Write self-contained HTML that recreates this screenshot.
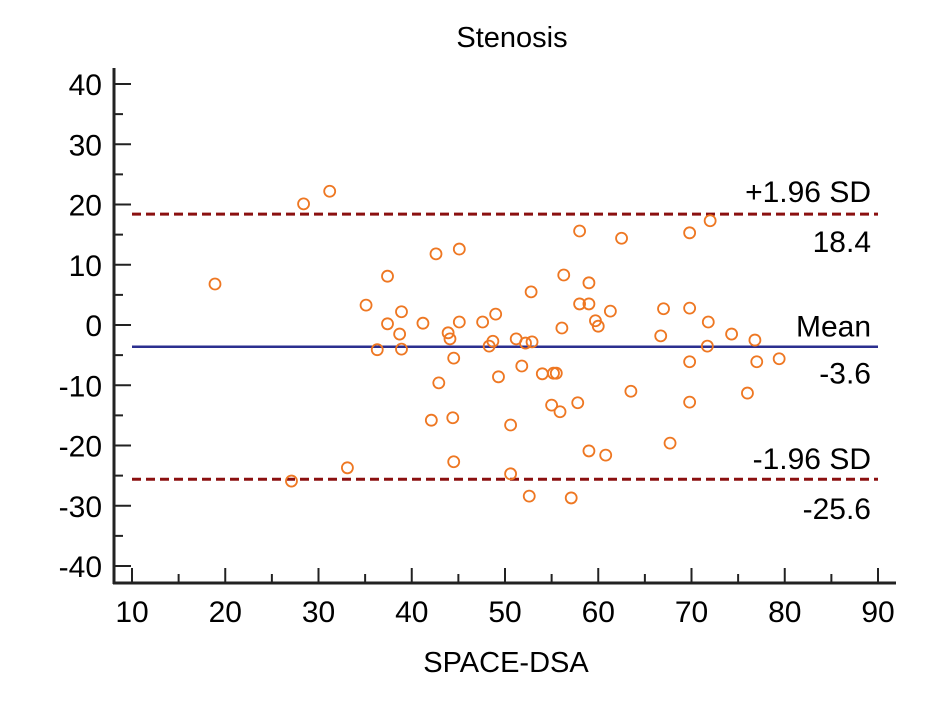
<!DOCTYPE html>
<html><head><meta charset="utf-8"><style>
html,body{margin:0;padding:0;background:#fff;width:939px;height:704px;overflow:hidden}
svg text{font-family:"Liberation Sans",Arial,sans-serif;fill:#000}
</style></head><body>
<svg id="chart" width="939" height="704" viewBox="0 0 939 704" xmlns="http://www.w3.org/2000/svg">
<g id="g"></g>
</svg>
<script>
const xTicks=[10,20,30,40,50,60,70,80,90];
const yTicks=[40,30,20,10,0,-10,-20,-30,-40];
const xs=[18.9,28.4,31.2,27.1,33.1,35.1,37.4,37.4,38.9,38.7,38.9,36.3,41.2,42.6,45.1,45.1,43.9,44.1,44.5,42.9,42.1,44.4,44.5,47.6,49.0,48.7,48.3,51.2,52.2,52.9,52.8,51.8,49.3,50.6,50.6,52.6,54.0,55.2,55.5,55.0,55.9,57.8,56.1,56.3,58.0,59.0,58.0,59.0,59.7,60.0,61.3,62.5,63.5,59.0,60.8,57.1,67.0,66.7,67.7,69.8,69.8,69.8,69.8,72.0,71.8,71.7,74.3,76.8,77.0,76.0,79.4];
const ys=[6.8,20.1,22.2,-25.9,-23.7,3.3,8.1,0.2,2.2,-1.5,-4.0,-4.1,0.3,11.8,12.6,0.5,-1.3,-2.3,-5.5,-9.6,-15.8,-15.4,-22.7,0.5,1.8,-2.7,-3.5,-2.3,-3.0,-2.8,5.5,-6.8,-8.6,-16.6,-24.7,-28.4,-8.1,-8.0,-8.0,-13.3,-14.4,-12.9,-0.5,8.3,15.6,7.0,3.5,3.5,0.7,-0.2,2.3,14.4,-11.0,-20.9,-21.6,-28.7,2.7,-1.8,-19.6,15.3,2.8,-6.1,-12.8,17.3,0.5,-3.5,-1.5,-2.5,-6.1,-11.3,-5.6];
const meanVal=-3.6, upperVal=18.4, lowerVal=-25.6;

const NS="http://www.w3.org/2000/svg";
const g=document.getElementById('g');
const X=v=>132+(v-10)*(878-132)/80;
const Y=v=>325-v*(566-84)/80;
function mk(t,a,parent){const e=document.createElementNS(NS,t);for(const k in a)e.setAttribute(k,a[k]);(parent||g).appendChild(e);return e;}
const FS=30;
let e;
e=mk('text',{x:512,y:47,'font-size':29,'text-anchor':'middle'});e.textContent='Stenosis';


e=mk('text',{x:506,y:672,'font-size':29,'text-anchor':'middle'});e.textContent='SPACE-DSA';



e=mk('line',{x1:114,y1:68,x2:114,y2:584,stroke:'#222','stroke-width':3});


e=mk('line',{x1:113,y1:583,x2:896,y2:583,stroke:'#222','stroke-width':3});



yTicks.forEach(v=>{
  const y=Y(v);
  e=mk('line',{x1:114,y1:y,x2:131,y2:y,stroke:'#222','stroke-width':2});
  
  
  e=mk('text',{x:102,y:y+11,'font-size':FS,'text-anchor':'end'});e.textContent=v;
  
  
  if(v>-40){const ym=Y(v-5);
  e=mk('line',{x1:114,y1:ym,x2:123,y2:ym,stroke:'#222','stroke-width':2});
  
  }
});
xTicks.forEach(v=>{
  const x=X(v);
  e=mk('line',{x1:x,y1:583,x2:x,y2:568,stroke:'#222','stroke-width':2});
  
  
  e=mk('text',{x:x,y:622,'font-size':FS,'text-anchor':'middle'});e.textContent=v;
  
  
  if(v<90){const xm=X(v+5);
  e=mk('line',{x1:xm,y1:583,x2:xm,y2:574,stroke:'#222','stroke-width':2});
  
  }
});

e=mk('line',{x1:X(10),y1:Y(upperVal),x2:X(90),y2:Y(upperVal),stroke:'#8b1010','stroke-width':3,'stroke-dasharray':'9,5'});


e=mk('line',{x1:X(10),y1:Y(lowerVal),x2:X(90),y2:Y(lowerVal),stroke:'#8b1010','stroke-width':3,'stroke-dasharray':'9,5'});


e=mk('line',{x1:X(10),y1:Y(meanVal),x2:X(90),y2:Y(meanVal),stroke:'#2b2f8f','stroke-width':2.5});



function lbl(txt,y,name){e=mk('text',{x:871,y:y,'font-size':FS,'text-anchor':'end'});e.textContent=txt;
  
  }
lbl('+1.96 SD',Y(upperVal)-12,'upper-limit-label');
lbl(upperVal.toFixed(1),Y(upperVal)+38,'upper-limit-value');
lbl('Mean',Y(meanVal)-10,'mean-label');
lbl(meanVal.toFixed(1),Y(meanVal)+37,'mean-value');
lbl('-1.96 SD',Y(lowerVal)-10,'lower-limit-label');
lbl(lowerVal.toFixed(1),Y(lowerVal)+40,'lower-limit-value');

xs.forEach((v,i)=>{
  const c=mk('circle',{cx:X(v),cy:Y(ys[i]),r:5.5,fill:'none',stroke:'#ee7722','stroke-width':1.8});
  
  
});
</script>
</body></html>
